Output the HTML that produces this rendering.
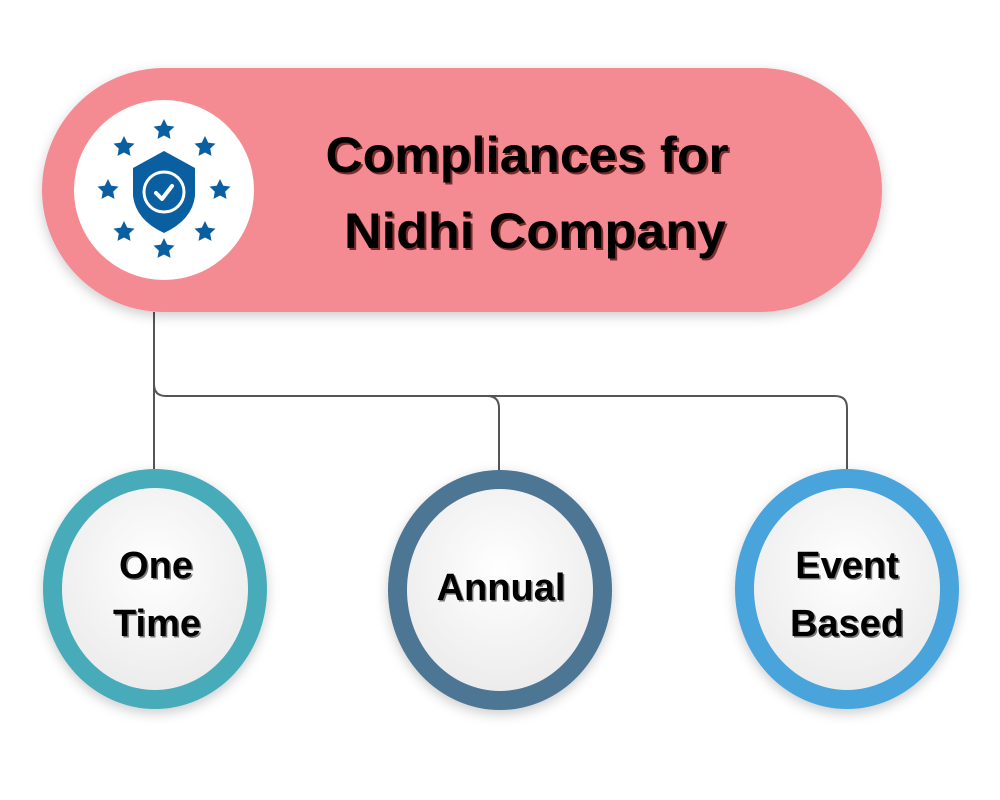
<!DOCTYPE html>
<html><head><meta charset="utf-8"><style>html,body{margin:0;padding:0;background:#fff}svg{display:block}</style></head>
<body>
<svg width="1000" height="800" viewBox="0 0 1000 800" xmlns="http://www.w3.org/2000/svg">
<defs>
<filter id="sh" x="-20%" y="-20%" width="140%" height="140%"><feDropShadow dx="0" dy="4" stdDeviation="6" flood-color="#000" flood-opacity="0.2"/></filter>
<radialGradient id="ig" cx="50%" cy="40%" r="60%"><stop offset="0" stop-color="#ffffff"/><stop offset="1" stop-color="#ececec"/></radialGradient>
<g id="st"><polygon points="0,-11 3.2,-4.4 10.5,-3.4 5.2,1.6 6.5,8.9 0,5.5 -6.5,8.9 -5.2,1.6 -10.5,-3.4 -3.2,-4.4" fill="#0a5fa0"/></g>
</defs>
<!-- connectors -->
<g fill="none" stroke="#555" stroke-width="2">
<path d="M154 312 V470"/>
<path d="M154 384 Q154 396 166 396 H487 Q499 396 499 408 V470"/>
<path d="M487 396 H835 Q847 396 847 408 V470"/>
</g>
<!-- pill -->
<rect x="42" y="68" width="840" height="244" rx="122" fill="#f48b93" filter="url(#sh)"/>
<circle cx="164" cy="190" r="90" fill="#fff"/>
<!-- icon -->
<use href="#st" x="164" y="130"/>
<use href="#st" x="205" y="147"/>
<use href="#st" x="220" y="190"/>
<use href="#st" x="205" y="232"/>
<use href="#st" x="164" y="249"/>
<use href="#st" x="124" y="232"/>
<use href="#st" x="108" y="190"/>
<use href="#st" x="124" y="147"/>
<path d="M164 151 L195 168 V196 Q192 220 164 233 Q136 220 133 196 V168 Z" fill="#0a5fa0"/>
<circle cx="164" cy="192" r="20" fill="none" stroke="#fff" stroke-width="3"/>
<path d="M156 193 L162 199 L172 186" fill="none" stroke="#fff" stroke-width="4" stroke-linecap="round" stroke-linejoin="round"/>
<!-- title -->
<g font-family="Liberation Sans, sans-serif" font-weight="bold" font-size="50" text-anchor="middle">
<text x="529" y="174" fill="#7a2a2a" textLength="403" lengthAdjust="spacingAndGlyphs">Compliances for</text>
<text x="527" y="172" fill="#000" textLength="403" lengthAdjust="spacingAndGlyphs">Compliances for</text>
<text x="537" y="250" fill="#7a2a2a" textLength="382" lengthAdjust="spacingAndGlyphs">Nidhi Company</text>
<text x="535" y="248" fill="#000" textLength="382" lengthAdjust="spacingAndGlyphs">Nidhi Company</text>
</g>
<!-- circles -->
<g filter="url(#sh)">
<ellipse cx="155" cy="589" rx="112" ry="120" fill="#46abba"/>
<ellipse cx="500" cy="590" rx="112" ry="120" fill="#4d7494"/>
<ellipse cx="847" cy="589" rx="112" ry="120" fill="#4aa4dc"/>
</g>
<ellipse cx="155" cy="589" rx="93" ry="101" fill="url(#ig)"/>
<ellipse cx="500" cy="590" rx="93" ry="101" fill="url(#ig)"/>
<ellipse cx="847" cy="589" rx="93" ry="101" fill="url(#ig)"/>
<g font-family="Liberation Sans, sans-serif" font-weight="bold" font-size="38" text-anchor="middle">
<g fill="#777" transform="translate(1.5,1.5)">
<text x="156" y="578">One</text><text x="157" y="636">Time</text>
<text x="501" y="600">Annual</text>
<text x="847" y="578">Event</text><text x="847" y="636">Based</text>
</g>
<g fill="#000">
<text x="156" y="578">One</text><text x="157" y="636">Time</text>
<text x="501" y="600">Annual</text>
<text x="847" y="578">Event</text><text x="847" y="636">Based</text>
</g>
</g>
</svg>
</body></html>
